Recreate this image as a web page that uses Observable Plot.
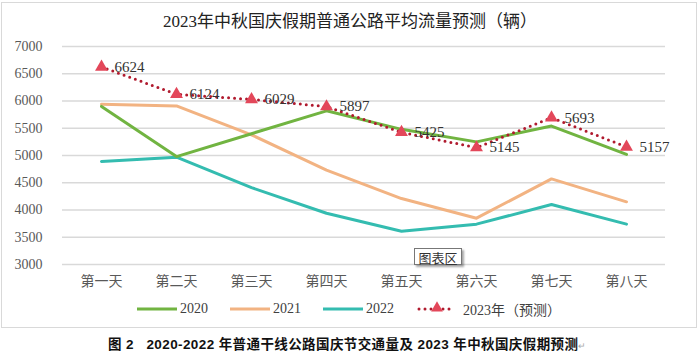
<!DOCTYPE html>
<html><head><meta charset="utf-8">
<script src="https://cdn.jsdelivr.net/npm/d3@7"></script>
<script src="https://cdn.jsdelivr.net/npm/@observablehq/plot@0.6"></script>
<style>
body{margin:0;background:#fff;}
#wrap{position:relative;width:700px;height:352px;overflow:hidden;background:#fff;}
#frame{position:absolute;left:1px;top:2px;width:696px;height:326px;border:1px solid #d9d9d9;box-sizing:border-box;}
#title{position:absolute;left:0;top:7px;width:700px;text-align:center;font-family:"Liberation Serif","Noto Sans CJK SC",serif;font-size:17px;color:#222;}
#chart{position:absolute;left:0;top:0;}
#tip{position:absolute;left:414px;top:248px;width:48px;height:17px;border:1px solid #777;background:#fff;box-shadow:2px 2px 2px rgba(0,0,0,0.35);font-family:"Noto Sans CJK SC",sans-serif;font-size:13px;line-height:17px;text-align:center;color:#333;box-sizing:border-box;}
#legend{position:absolute;top:300px;left:0;width:700px;height:18px;font-family:"Liberation Serif","Noto Sans CJK SC",serif;font-size:14px;color:#404040;}
.li{position:absolute;top:0;display:flex;align-items:center;height:18px;white-space:nowrap;}
#caption{position:absolute;left:108px;top:333px;font-family:"Liberation Sans","Noto Sans CJK SC",sans-serif;font-weight:bold;font-size:13.5px;letter-spacing:0.4px;color:#111;white-space:pre;}
#caption span{color:#aaa;font-weight:normal;font-size:9px;}
</style></head>
<body>
<div id="wrap">
  <div id="frame"></div>
  <div id="title">2023年中秋国庆假期普通公路平均流量预测（辆）</div>
  <div id="chart"></div>
  <div id="tip">图表区</div>
  <div id="legend"></div>
  <div id="caption">图 2   2020-2022 年普通干线公路国庆节交通量及 2023 年中秋国庆假期预测<span>↵</span></div>
</div>
<script>
const days = ["第一天","第二天","第三天","第四天","第五天","第六天","第七天","第八天"];
const v2020 = [5900, 4980, 5400, 5820, 5480, 5250, 5540, 5020];
const v2021 = [5940, 5910, 5380, 4730, 4210, 3850, 4570, 4150];
const v2022 = [4890, 4970, 4410, 3940, 3610, 3740, 4100, 3740];
const v2023 = [6624, 6124, 6029, 5897, 5425, 5145, 5693, 5157];
const yTicks = [3000,3500,4000,4500,5000,5500,6000,6500,7000];
const seriesNames = ["2020","2021","2022","2023年（预测）"];
const colors = {"2020":"#71b441","2021":"#f2b382","2022":"#34bcb0","2023line":"#b01a2e","2023mark":"#e3475a"};

const rows = (vals, s) => vals.map((v,i)=>({day:days[i], value:v, series:s}));
const d2020 = rows(v2020,"2020"), d2021 = rows(v2021,"2021"), d2022 = rows(v2022,"2022"), d2023 = rows(v2023,"2023");

const serif = "Liberation Serif, Noto Sans CJK SC, serif";
const plot = Plot.plot({
  width: 700, height: 300,
  marginLeft: 62, marginRight: 35, marginTop: 46, marginBottom: 36,
  style: {fontFamily: serif, background: "transparent", overflow: "visible"},
  x: {type: "point", domain: days, padding: 0.5, label: null},
  y: {domain: [3000, 7000], label: null},
  marks: [
    Plot.ruleY(yTicks, {stroke: "#d9d9d9", strokeWidth: 1.5}),
    Plot.axisY({ticks: yTicks, tickSize: 0, tickPadding: 20, tickFormat: d => String(d), fontSize: 14, fill: "#595959", label: null}),
    Plot.axisX({tickSize: 0, tickPadding: 12, fontSize: 14, fill: "#595959", label: null, fontFamily: "Noto Sans CJK SC, serif"}),
    Plot.line(d2021, {x: "day", y: "value", stroke: colors["2021"], strokeWidth: 3}),
    Plot.line(d2022, {x: "day", y: "value", stroke: colors["2022"], strokeWidth: 3}),
    Plot.line(d2020, {x: "day", y: "value", stroke: colors["2020"], strokeWidth: 3}),
    Plot.line(d2023, {x: "day", y: "value", stroke: colors["2023line"], strokeWidth: 3, strokeDasharray: "0,6", strokeLinecap: "round"}),
    Plot.dot(d2023, {x: "day", y: "value", symbol: "triangle", r: 4.8, fill: colors["2023mark"], stroke: "none"}),
    Plot.text(d2023, {x: "day", y: "value", text: d => String(d.value), dx: 13, textAnchor: "start", fontSize: 15, fill: "#333"})
  ]
});
document.getElementById("chart").appendChild(plot);

// legend
const legend = document.getElementById("legend");
const legendItems = [
  {name: seriesNames[0], x: 137, kind: "solid", color: colors["2020"]},
  {name: seriesNames[1], x: 230, kind: "solid", color: colors["2021"]},
  {name: seriesNames[2], x: 323, kind: "solid", color: colors["2022"]},
  {name: seriesNames[3], x: 417, kind: "dot", color: colors["2023line"]}
];
for (const it of legendItems) {
  const el = document.createElement("div");
  el.className = "li";
  el.style.left = it.x + "px";
  const svg = d3.create("svg").attr("width", 40).attr("height", 18);
  if (it.kind === "solid") {
    svg.append("line").attr("x1", 0).attr("x2", 40).attr("y1", 9).attr("y2", 9).attr("stroke", it.color).attr("stroke-width", 3);
  } else {
    svg.append("line").attr("x1", 2).attr("x2", 38).attr("y1", 9).attr("y2", 9).attr("stroke", it.color).attr("stroke-width", 3).attr("stroke-dasharray", "0,6").attr("stroke-linecap", "round");
    svg.append("path").attr("d", d3.symbol(d3.symbolTriangle, 60)()).attr("transform", "translate(20,8)").attr("fill", colors["2023mark"]);
  }
  el.appendChild(svg.node());
  const t = document.createElement("span");
  t.textContent = it.name;
  t.style.marginLeft = (it.kind === "dot" ? 6 : 3) + "px";
  el.appendChild(t);
  legend.appendChild(el);
}
</script>
</body></html>
